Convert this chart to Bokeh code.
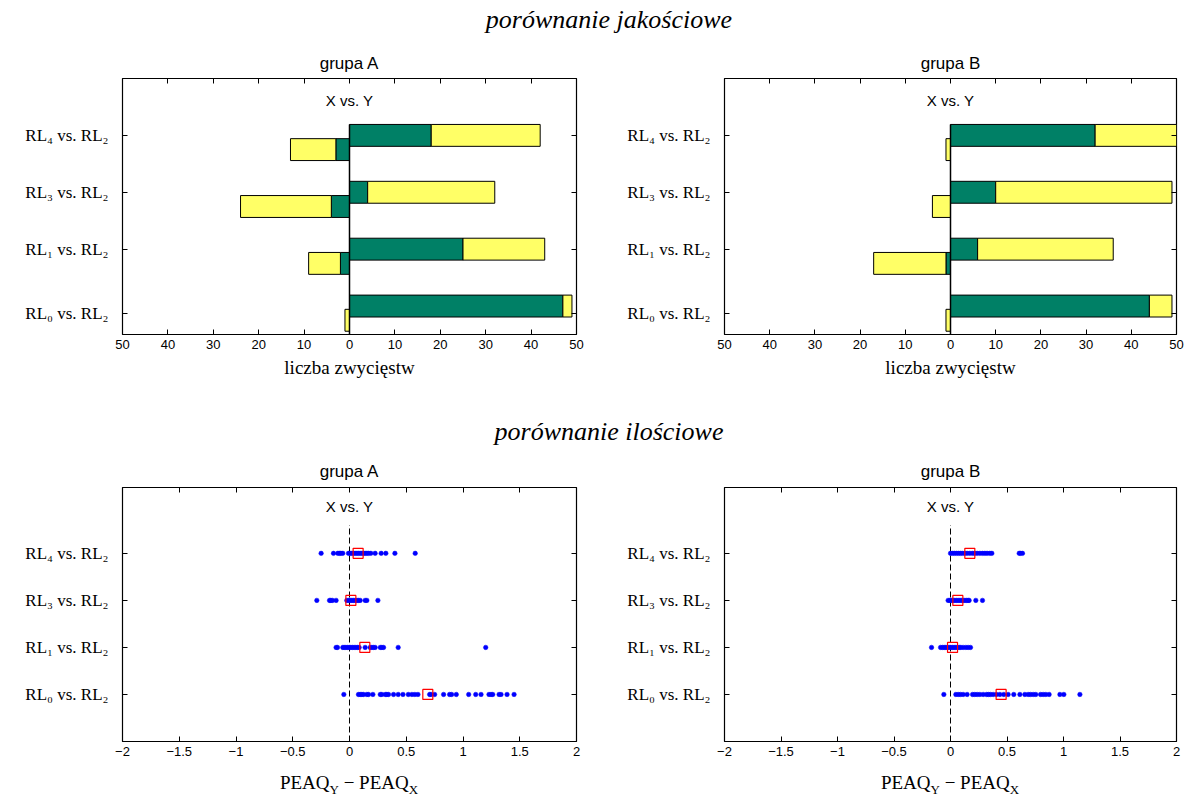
import numpy as np
from bokeh.plotting import figure
from bokeh.models import Range1d, FixedTicker, LinearAxis, Label, Div
from bokeh.layouts import column, row
from bokeh.embed import file_html
from bokeh.resources import INLINE

# ---------------- data ----------------
categories = ["RL₀ vs. RL₂", "RL₁ vs. RL₂", "RL₃ vs. RL₂", "RL₄ vs. RL₂"]
group_titles = ["grupa A", "grupa B"]

# qualitative comparison (number of wins), order RL0, RL1, RL3, RL4
a_right_green = [47, 25, 4, 18]
a_right_yellow = [2, 18, 28, 24]
a_left_green = [0, 2, 4, 3]
a_left_yellow = [1, 7, 20, 10]

b_right_green = [44, 6, 10, 32]
b_right_yellow = [5, 30, 39, 18]
b_left_green = [0, 1, 0, 0]
b_left_yellow = [1, 16, 4, 1]

bar_ticks = [-50, -40, -30, -20, -10, 0, 10, 20, 30, 40, 50]
bar_tick_labels = ["50", "40", "30", "20", "10", "0", "10", "20", "30", "40", "50"]

# quantitative comparison (PEAQ_Y - PEAQ_X)
a_rl0 = [-0.05, 0.079, 0.094, 0.109, 0.124, 0.153, 0.168, 0.206, 0.271, 0.285, 0.315,
         0.329, 0.344, 0.388, 0.429, 0.471, 0.518, 0.55, 0.576, 0.603, 0.706, 0.718,
         0.75, 0.829, 0.882, 0.9, 0.941, 1.05, 1.112, 1.159, 1.229, 1.247, 1.262,
         1.318, 1.335, 1.388, 1.45]
a_rl1 = [-0.118, -0.106, -0.059, -0.047, -0.032, -0.018, -0.003, 0.012, 0.026, 0.041,
         0.056, 0.071, 0.085, 0.138, 0.182, 0.197, 0.212, 0.226, 0.271, 0.285, 0.3,
         0.429, 1.2]
a_rl3 = [-0.288, -0.176, -0.165, -0.15, -0.118, -0.024, -0.009, 0.006, 0.021, 0.035,
         0.05, 0.065, 0.079, 0.094, 0.138, 0.153, 0.25]
a_rl4 = [-0.25, -0.141, -0.103, -0.088, -0.076, -0.059, -0.009, 0.006, 0.02, 0.035,
         0.05, 0.065, 0.079, 0.094, 0.109, 0.124, 0.138, 0.153, 0.168, 0.188, 0.226,
         0.279, 0.32, 0.4, 0.579]
a_means = [0.69, 0.135, 0.012, 0.076]

b_rl0 = [-0.059, 0.047, 0.068, 0.088, 0.112, 0.147, 0.195, 0.215, 0.236, 0.26, 0.289,
         0.319, 0.336, 0.354, 0.378, 0.407, 0.437, 0.472, 0.51, 0.56, 0.614, 0.658,
         0.687, 0.708, 0.732, 0.755, 0.797, 0.82, 0.844, 0.873, 0.968, 1.003, 1.145]
b_rl1 = [-0.168, -0.088, -0.071, -0.056, -0.041, -0.027, -0.012, 0.003, 0.018, 0.032,
         0.047, 0.062, 0.077, 0.091, 0.112, 0.136, 0.156, 0.177]
b_rl3 = [-0.021, -0.006, 0.009, 0.024, 0.038, 0.053, 0.068, 0.083, 0.097, 0.112, 0.127,
         0.142, 0.156, 0.165, 0.224, 0.283]
b_rl4 = [0.0, 0.018, 0.035, 0.053, 0.071, 0.088, 0.106, 0.127, 0.147, 0.171, 0.195,
         0.215, 0.236, 0.26, 0.283, 0.304, 0.324, 0.348, 0.366, 0.608, 0.619, 0.637]
b_means = [0.448, 0.018, 0.065, 0.171]

peaq_ticks = [-2, -1.5, -1, -0.5, 0, 0.5, 1, 1.5, 2]
peaq_tick_labels = ["−2", "−1.5", "−1", "−0.5", "0", "0.5", "1", "1.5", "2"]

# ---------------- style ----------------
GREEN = "#008066"
YELLOW = "#FFFF66"
SANS = "Liberation Sans"
SERIF = "Liberation Serif"

LEFT_W, RIGHT_W = 609, 577


def base_axes(p, title, title_standoff, xticks, xlabels, yticks, ylabels):
    p.xgrid.visible = False
    p.ygrid.visible = False
    p.outline_line_color = "black"
    p.outline_line_width = 1.2
    p.background_fill_color = "white"
    p.border_fill_color = "white"

    p.title.text = title
    p.title.align = "center"
    p.title.text_font = SANS
    p.title.text_font_size = "17px"
    p.title.text_font_style = "normal"
    p.title.text_color = "black"
    p.title.standoff = title_standoff

    xa = p.below[0]
    xa.ticker = FixedTicker(ticks=xticks)
    xa.major_label_overrides = {t: l for t, l in zip(xticks, xlabels)}
    xa.major_tick_in = 5
    xa.major_tick_out = 0
    xa.minor_tick_line_color = None
    xa.axis_line_color = None
    xa.major_label_standoff = 5
    xa.major_label_text_font = SANS
    xa.major_label_text_font_size = "13px"
    xa.major_label_text_color = "black"

    ya = p.left[0]
    ya.ticker = FixedTicker(ticks=yticks)
    ya.major_label_overrides = {t: l for t, l in zip(yticks, ylabels)}
    ya.major_tick_in = 5
    ya.major_tick_out = 0
    ya.minor_tick_line_color = None
    ya.axis_line_color = None
    ya.major_label_standoff = 14
    ya.major_label_text_font = SERIF
    ya.major_label_text_font_size = "17px"
    ya.major_label_text_color = "black"

    top = LinearAxis(ticker=FixedTicker(ticks=xticks),
                     major_label_overrides={t: "" for t in xticks},
                     major_label_text_font_size="0px",
                     major_label_standoff=0, major_tick_in=5, major_tick_out=0,
                     minor_tick_line_color=None, axis_line_color=None)
    p.add_layout(top, "above")
    right = LinearAxis(ticker=FixedTicker(ticks=yticks),
                       major_label_overrides={t: "" for t in yticks},
                       major_label_text_font_size="0px",
                       major_label_standoff=0, major_tick_in=5, major_tick_out=0,
                       minor_tick_line_color=None, axis_line_color=None)
    p.add_layout(right, "right")
    return xa


def bar_fig(title, rg, ry, lg, ly, is_left):
    w = LEFT_W if is_left else RIGHT_W
    p = figure(width=w, height=378, x_range=Range1d(-50, 50), y_range=Range1d(0, 4.5),
               output_backend="svg", toolbar_location=None,
               min_border_left=122 if is_left else 115,
               min_border_right=33 if is_left else 10,
               min_border_top=38, min_border_bottom=84)
    rg = np.array(rg, dtype=float)
    ry = np.array(ry, dtype=float)
    lg = np.array(lg, dtype=float)
    ly = np.array(ly, dtype=float)
    idx = np.arange(len(categories))
    yr = idx + 0.5
    yl = idx + 0.25
    h = 0.385
    p.hbar(y=yr, left=0, right=rg, height=h, fill_color=GREEN, line_color="black", line_width=1)
    p.hbar(y=yr, left=rg, right=rg + ry, height=h, fill_color=YELLOW, line_color="black", line_width=1)
    p.hbar(y=yl, left=-lg, right=0, height=h, fill_color=GREEN, line_color="black", line_width=1)
    p.hbar(y=yl, left=-(lg + ly), right=-lg, height=h, fill_color=YELLOW, line_color="black", line_width=1)
    p.segment(x0=[0], y0=[0], x1=[0], y1=[yr[-1] + h / 2], line_color="black", line_width=1.5)

    yticks = [0.375, 1.5, 2.5, 3.5]
    xa = base_axes(p, title, 11, bar_ticks, bar_tick_labels, yticks, categories)
    xa.axis_label = "liczba zwycięstw"
    xa.axis_label_standoff = 5
    xa.axis_label_text_font = SERIF
    xa.axis_label_text_font_style = "normal"
    xa.axis_label_text_font_size = "19px"
    xa.axis_label_text_color = "black"

    p.add_layout(Label(x=0, y=4.11, text="X vs. Y", text_align="center", text_baseline="middle",
                       text_font=SANS, text_font_size="15px", text_color="black"))
    return p


def scatter_fig(title, rows, means, is_left):
    w = LEFT_W if is_left else RIGHT_W
    p = figure(width=w, height=316, x_range=Range1d(-2, 2), y_range=Range1d(0, 5.4),
               output_backend="svg", toolbar_location=None,
               min_border_left=122 if is_left else 115,
               min_border_right=33 if is_left else 10,
               min_border_top=38, min_border_bottom=24)
    p.segment(x0=[0], y0=[0], x1=[0], y1=[4.6], line_color="black", line_width=1,
              line_dash="6 3")
    xs, ys = [], []
    for i, vals in enumerate(rows):
        xs.extend(vals)
        ys.extend([i + 1] * len(vals))
    p.scatter(x=xs, y=ys, size=4.5, fill_color="blue", line_color="blue", line_width=0.5)
    p.scatter(x=means, y=list(range(1, len(means) + 1)), marker="square", size=10,
              fill_color=None, line_color="red", line_width=1.2)

    base_axes(p, title, 14, peaq_ticks, peaq_tick_labels, [1, 2, 3, 4], categories)

    p.add_layout(Label(x=0, y=5.0, text="X vs. Y", text_align="center", text_baseline="middle",
                       text_font=SANS, text_font_size="15px", text_color="black"))
    return p


def title_div(text, width, height, pad_left, pad_top):
    html = ('<div style="box-sizing:border-box;width:%dpx;padding-left:%dpx;'
            'padding-top:%dpx;text-align:center;font-family:\'Liberation Serif\';'
            'font-style:italic;font-size:26px;line-height:28px;color:black;'
            'white-space:nowrap;">%s</div>'
            % (width, pad_left, pad_top, text))
    return Div(text=html, width=width, height=height, margin=(0, 0, 0, 0))


def xlabel_div(width, pad_left):
    html = ('<div style="box-sizing:border-box;width:%dpx;padding-left:%dpx;'
            'padding-top:7px;text-align:center;font-family:\'Liberation Serif\';'
            'font-size:19px;line-height:22px;color:black;white-space:nowrap;">'
            'PEAQ<sub style="font-size:13px;">Y</sub> − PEAQ<sub style="font-size:13px;">X</sub>'
            '</div>' % (width, pad_left))
    return Div(text=html, width=width, height=31, margin=(0, 0, 0, 0))


tl = bar_fig(group_titles[0], a_right_green, a_right_yellow, a_left_green, a_left_yellow, True)
tr = bar_fig(group_titles[1], b_right_green, b_right_yellow, b_left_green, b_left_yellow, False)
bl = scatter_fig(group_titles[0], [a_rl0, a_rl1, a_rl3, a_rl4], a_means, True)
br = scatter_fig(group_titles[1], [b_rl0, b_rl1, b_rl3, b_rl4], b_means, False)

for f in (tl, tr, bl, br):
    f.margin = (0, 0, 0, 0)

layout = column(
    title_div("porównanie jakościowe", 1186, 40, 32, 6),
    row(tl, tr, margin=(0, 0, 0, 0)),
    title_div("porównanie ilościowe", 1186, 31, 32, 0),
    row(bl, br, margin=(0, 0, 0, 0)),
    row(xlabel_div(LEFT_W, 89), xlabel_div(RIGHT_W, 105), margin=(0, 0, 0, 0)),
    margin=(0, 0, 0, 0),
)

open("out.html", "w").write(file_html(layout, INLINE, title="chart"))
